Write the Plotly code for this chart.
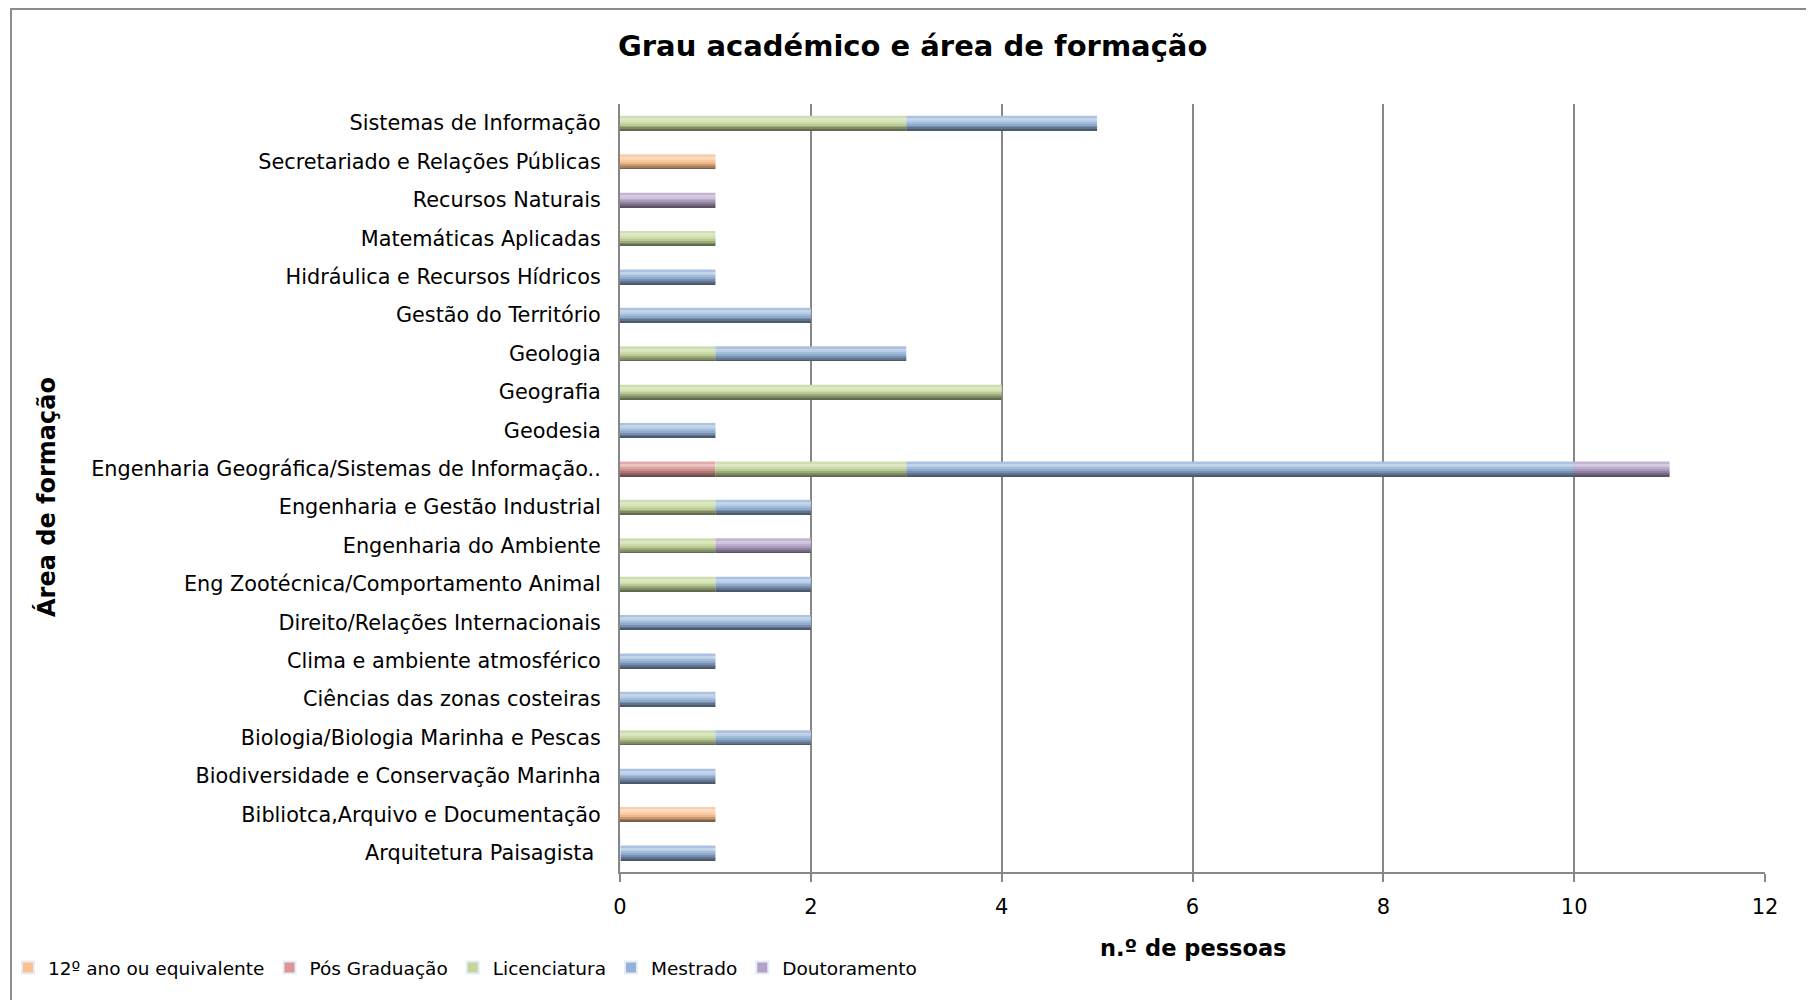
import plotly.graph_objects as go

categories = [
    "Arquitetura Paisagista\u00a0",
    "Bibliotca,Arquivo e Documentação",
    "Biodiversidade e Conservação Marinha",
    "Biologia/Biologia Marinha e Pescas",
    "Ciências das zonas costeiras",
    "Clima e ambiente atmosférico",
    "Direito/Relações Internacionais",
    "Eng Zootécnica/Comportamento Animal",
    "Engenharia do Ambiente",
    "Engenharia e Gestão Industrial",
    "Engenharia Geográfica/Sistemas de Informação..",
    "Geodesia",
    "Geografia",
    "Geologia",
    "Gestão do Território",
    "Hidráulica e Recursos Hídricos",
    "Matemáticas Aplicadas",
    "Recursos Naturais",
    "Secretariado e Relações Públicas",
    "Sistemas de Informação",
]

series_names = ["12º ano ou equivalente", "Pós Graduação", "Licenciatura", "Mestrado", "Doutoramento"]
v_12ano = [0, 1, 0, 0, 0, 0, 0, 0, 0, 0, 0, 0, 0, 0, 0, 0, 0, 0, 1, 0]
v_posgrad = [0, 0, 0, 0, 0, 0, 0, 0, 0, 0, 1, 0, 0, 0, 0, 0, 0, 0, 0, 0]
v_licenc = [0, 0, 0, 1, 0, 0, 0, 1, 1, 1, 2, 0, 4, 1, 0, 0, 1, 0, 0, 3]
v_mestrado = [1, 0, 1, 1, 1, 1, 2, 1, 0, 1, 7, 1, 0, 2, 2, 1, 0, 0, 0, 2]
v_doutor = [0, 0, 0, 0, 0, 0, 0, 0, 1, 0, 1, 0, 0, 0, 0, 0, 0, 1, 0, 0]

base_colors = ["#FAC090", "#D99694", "#C3D69B", "#95B3D7", "#B3A2C7"]
all_vals = [v_12ano, v_posgrad, v_licenc, v_mestrado, v_doutor]


def mix(hexc, t):
    # t>0 mix toward white, t<0 toward black
    r, g, b = int(hexc[1:3], 16), int(hexc[3:5], 16), int(hexc[5:7], 16)
    if t >= 0:
        r, g, b = [c + (255 - c) * t for c in (r, g, b)]
    else:
        r, g, b = [c * (1 + t) for c in (r, g, b)]
    return "#%02X%02X%02X" % (round(r), round(g), round(b))


# gradient bands from bottom to top
band_shades = [-0.5, -0.35, -0.2, -0.05, 0.12, 0.35, 0.45, 0.2]

FONT = "DejaVu Sans"
fig = go.Figure()

bar_w = 0.38
nb = len(band_shades)
base = [0] * len(categories)
for name, vals, col in zip(series_names, all_vals, base_colors):
    bs = list(base)
    for i, sh in enumerate(band_shades):
        fig.add_trace(go.Bar(
            y=categories, x=vals, base=bs, orientation="h",
            width=bar_w / nb * 1.02, offset=-bar_w / 2 + bar_w * i / nb,
            marker=dict(color=mix(col, sh), line=dict(width=0)),
            name=name, legendgroup=name, showlegend=False,
            hoverinfo="skip",
        ))
    fig.add_trace(go.Bar(
        y=[categories[0]], x=[0], orientation="h",
        marker=dict(color=col), name=name, legendgroup=name,
        showlegend=True, hoverinfo="skip",
    ))
    base = [b + v for b, v in zip(base, vals)]

# page has an 8px body margin; work in page pixels and convert
OFF = 8
W, H = 1814 - OFF, 1000 - OFF
L, R, T, B = 620 - OFF, 49, 104 - OFF, 128
pw = W - L - R
ph = H - T - B


def px_x(p):
    return (p - OFF - L) / pw


def px_y(p):
    return (H - B - (p - OFF)) / ph


fig.update_layout(
    width=W, height=H,
    barmode="overlay",
    paper_bgcolor="white", plot_bgcolor="white",
    margin=dict(l=L, r=R, t=T, b=B),
    font=dict(family=FONT, color="#000000", size=19),
    showlegend=True,
    legend=dict(
        orientation="h", xref="container", yref="container",
        x=0.0, y=1 - (968 - OFF) / H, xanchor="left", yanchor="middle",
        font=dict(size=18.5, family=FONT), traceorder="normal",
        itemwidth=30, itemsizing="constant", tracegroupgap=0,
        bgcolor="rgba(0,0,0,0)",
    ),
    xaxis=dict(
        range=[0, 12], dtick=2, tick0=0,
        showgrid=True, gridcolor="#878787", gridwidth=2,
        showline=True, linecolor="#878787", linewidth=2,
        ticks="outside", ticklen=8, tickcolor="#878787", tickwidth=2,
        tickfont=dict(size=21, family=FONT), ticklabelstandoff=7,
        zeroline=False,
    ),
    yaxis=dict(
        type="category", categoryorder="array", categoryarray=categories,
        showgrid=False, showline=True, linecolor="#878787", linewidth=2,
        ticks="", tickfont=dict(size=20.8, family=FONT),
        ticklabelstandoff=13,
        zeroline=False,
    ),
    annotations=[
        dict(text="<b>Grau académico e área de formação</b>", xref="paper", yref="paper",
             x=px_x(912), y=px_y(46), xanchor="center", yanchor="middle", showarrow=False,
             font=dict(size=29, family=FONT)),
        dict(text="<b>n.º de pessoas</b>", xref="paper", yref="paper",
             x=px_x(1193), y=px_y(948), xanchor="center", yanchor="middle", showarrow=False,
             font=dict(size=22.5, family=FONT)),
        dict(text="<b>Área de formação</b>", xref="paper", yref="paper",
             x=px_x(46), y=px_y(497), xanchor="center", yanchor="middle", showarrow=False,
             textangle=-90, font=dict(size=24, family=FONT)),
    ],
    shapes=[
        dict(type="line", xref="paper", yref="paper", x0=px_x(10), x1=px_x(1830),
             y0=px_y(9), y1=px_y(9), line=dict(color="#8C8C8C", width=2)),
        dict(type="line", xref="paper", yref="paper", x0=px_x(11), x1=px_x(11),
             y0=px_y(8), y1=px_y(1020), line=dict(color="#8C8C8C", width=2)),
    ],
)

fig.write_html("out.html")
